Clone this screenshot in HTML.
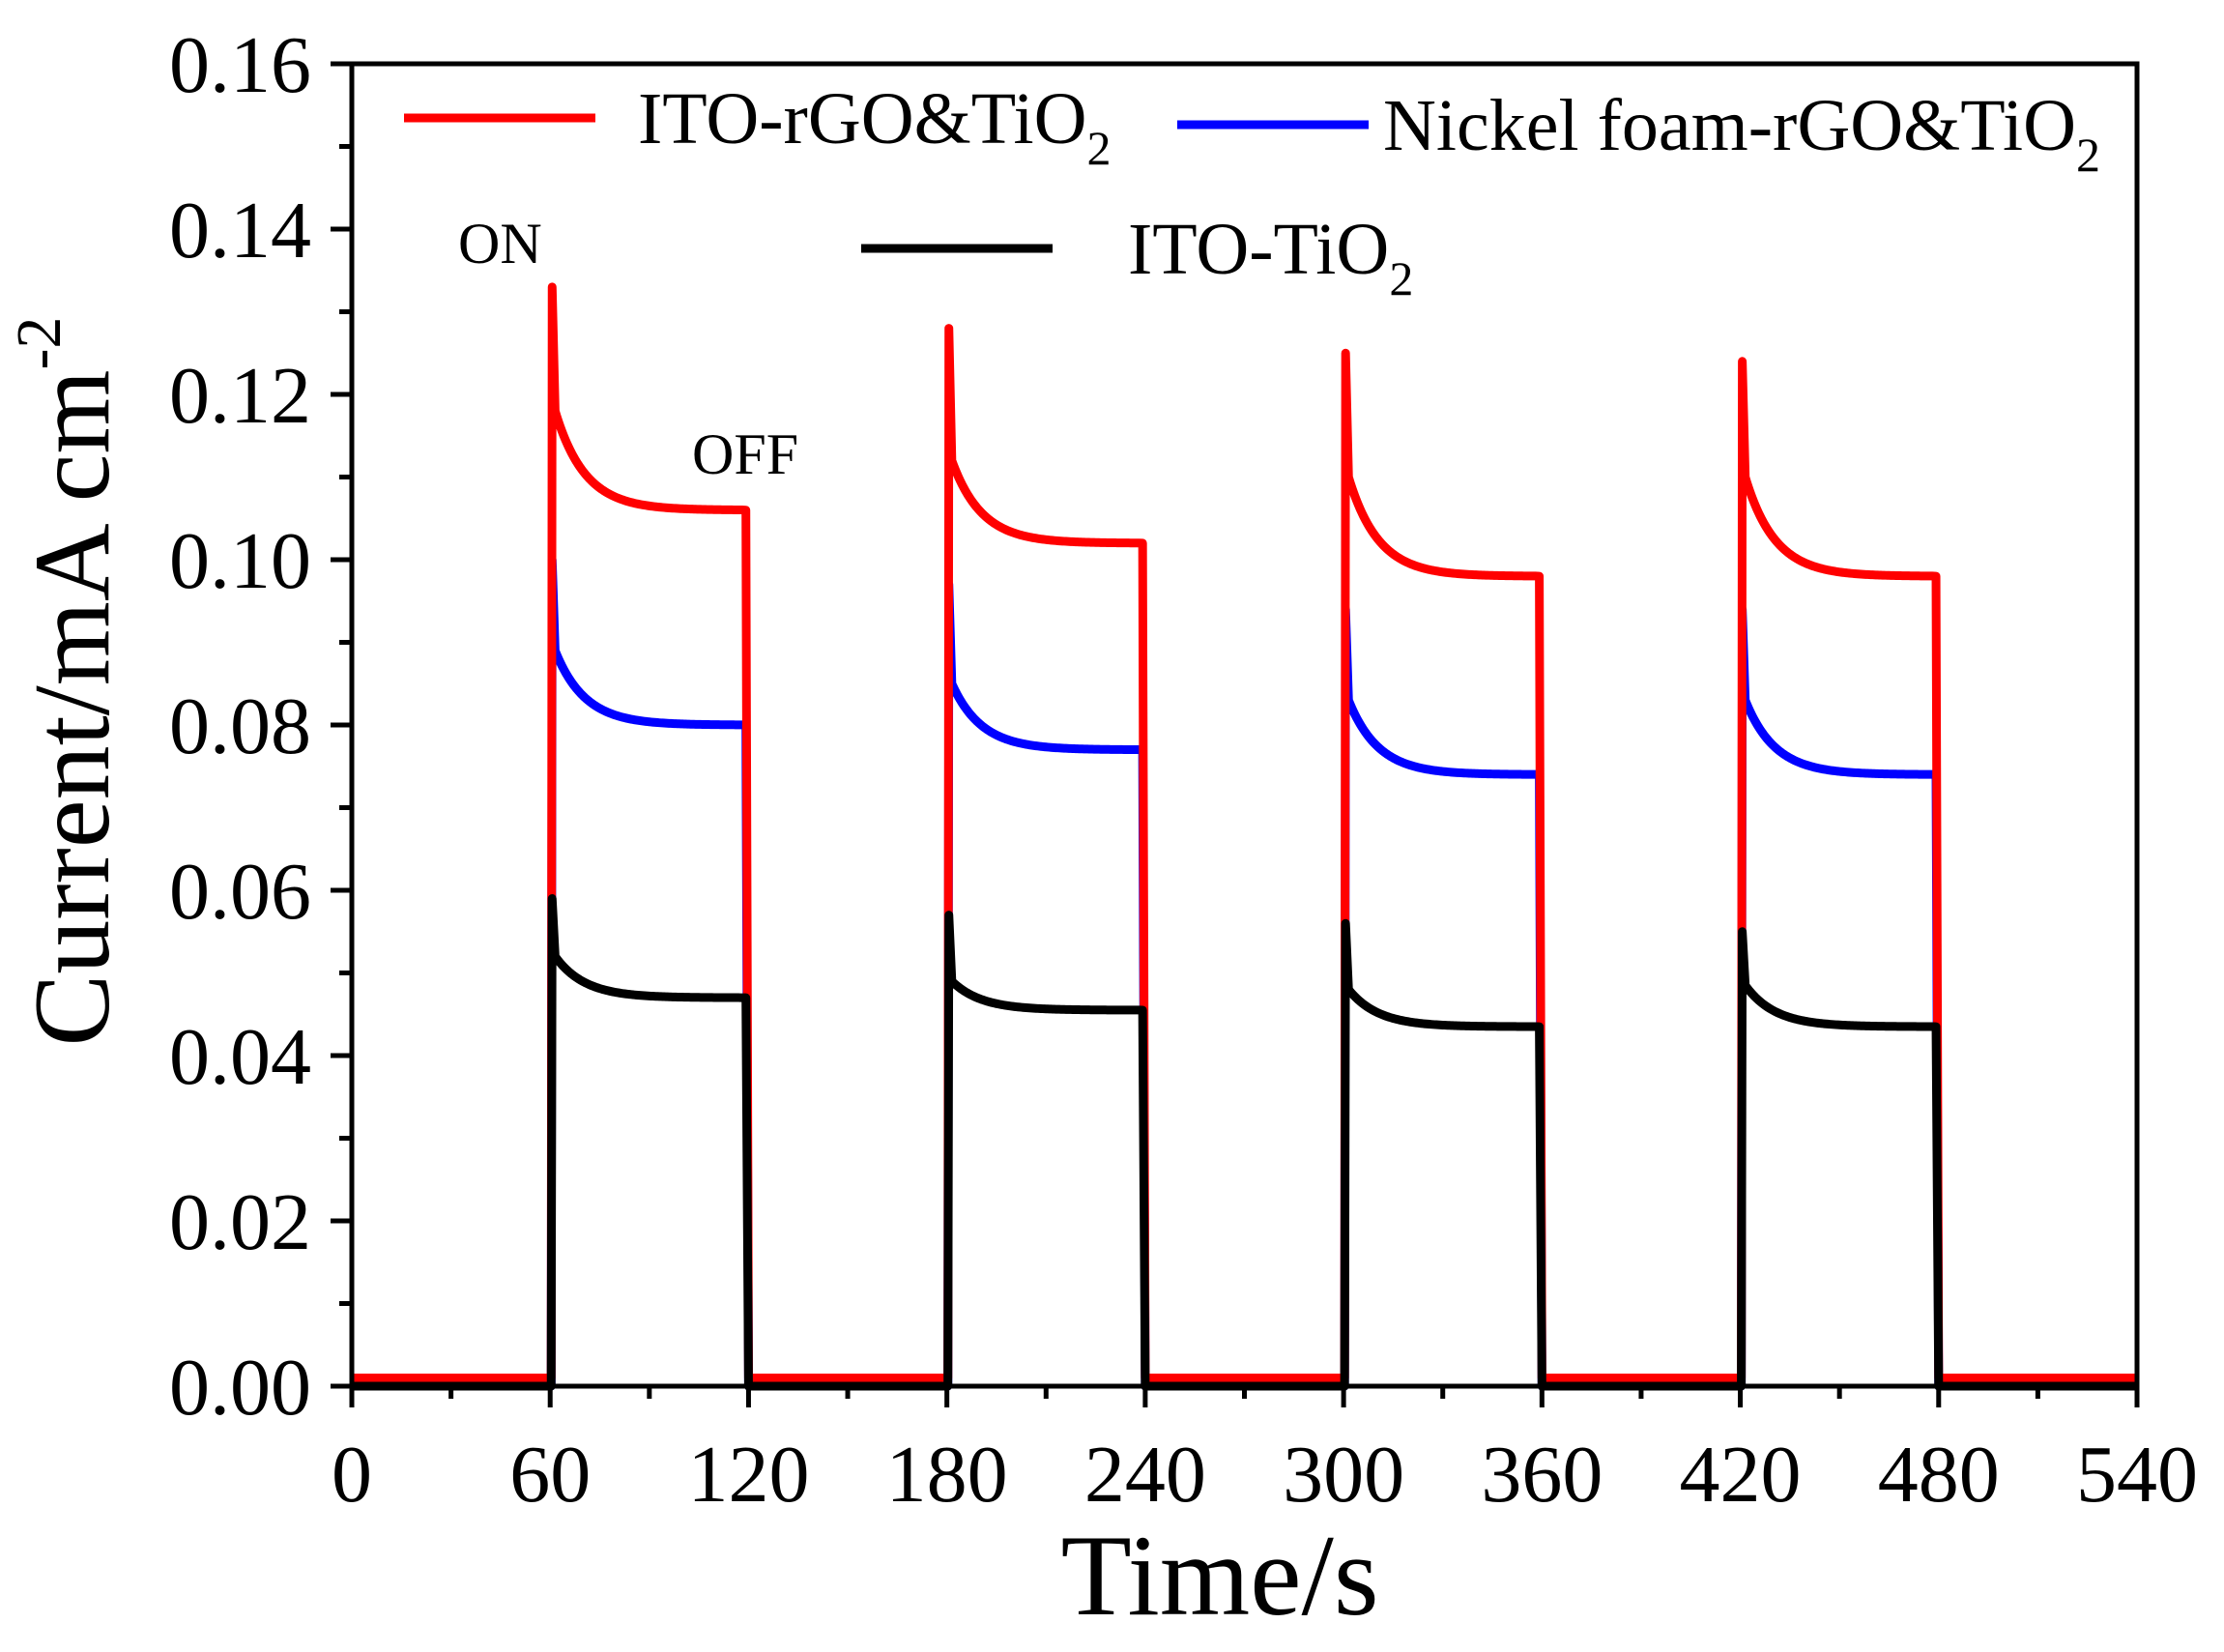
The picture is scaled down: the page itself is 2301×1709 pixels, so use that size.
<!DOCTYPE html>
<html><head><meta charset="utf-8"><style>
html,body{margin:0;padding:0;background:#fff;}
svg{display:block;}
text{font-family:"Liberation Serif",serif;fill:#000;}
</style></head><body>
<svg id="s" width="2301" height="1709" viewBox="0 0 2301 1709" xmlns="http://www.w3.org/2000/svg">
<g id="series"></g>
<rect x="364" y="66" width="1847" height="1368" fill="none" stroke="#000" stroke-width="5"/>
<g id="ticks" stroke="#000" stroke-width="5"></g>
<g font-size="84" text-anchor="end" id="ylab"></g>
<g font-size="84" text-anchor="middle" id="xlab"></g>
<text x="1262" y="1670" font-size="120" text-anchor="middle">Time/s</text>
<text transform="translate(112,705) rotate(-90)" font-size="112" text-anchor="middle">Current/mA cm<tspan dy="-50" font-size="66">-2</tspan></text>
<line x1="418" y1="122" x2="616" y2="122" stroke="#f00" stroke-width="9"/>
<text x="660" y="148" font-size="76">ITO-rGO&amp;TiO<tspan dy="22" font-size="50">2</tspan></text>
<line x1="1218" y1="129" x2="1416" y2="129" stroke="#00f" stroke-width="9"/>
<text x="1431" y="155" font-size="76">Nickel foam-rGO&amp;TiO<tspan dy="22" font-size="50">2</tspan></text>
<line x1="891" y1="257" x2="1089" y2="257" stroke="#000" stroke-width="9"/>
<text x="1167" y="283" font-size="76">ITO-TiO<tspan dy="22" font-size="50">2</tspan></text>
<text x="474" y="272" font-size="60">ON</text>
<text x="716" y="490" font-size="60">OFF</text>
</svg>
<script>
var X=function(t){return 364+t*1847/540;},Y=function(v){return 1434-v*8550;};
function series(base,params){
 var d="M"+X(0)+","+Y(base);
 for(var k=0;k<4;k++){
  var p=params[k],t0=60+120*k;
  d+=" L"+X(t0+0.3)+","+Y(base)+" L"+X(t0+0.6)+","+Y(p[0])+" L"+X(t0+1.5)+","+Y(p[1]);
  for(var t=1.5;t<=58;t+=0.5){
   var v=p[2]+(p[1]-p[2])*Math.exp(-(t-1.5)/9);
   d+=" L"+X(t0+t)+","+Y(v);
  }
  d+=" L"+X(t0+59.2)+","+Y(p[2])+" L"+X(t0+60)+","+Y(base);
 }
 d+=" L"+X(540)+","+Y(base);
 return d;
}
var red=[[0.133,0.118,0.106],[0.128,0.112,0.102],[0.125,0.110,0.098],[0.124,0.110,0.098]];
var blue=[[0.100,0.089,0.080],[0.097,0.085,0.077],[0.094,0.083,0.074],[0.094,0.083,0.074]];
var blk=[[0.059,0.052,0.047],[0.057,0.049,0.0455],[0.056,0.048,0.0435],[0.055,0.0485,0.0435]];
var g=document.getElementById("series"),ns="http://www.w3.org/2000/svg";
[[blue,"#00f",0.0,9],[red,"#f00",0.001,9],[blk,"#000",0.0,9]].forEach(function(a){
 var p=document.createElementNS(ns,"path");p.setAttribute("d",series(a[2],a[0]));
 p.setAttribute("fill","none");p.setAttribute("stroke",a[1]);p.setAttribute("stroke-width",a[3]);p.setAttribute("stroke-linejoin","round");g.appendChild(p);
});
var tk=document.getElementById("ticks"),h="";
for(var i=0;i<=16;i++){var y=Y(i*0.01),l=(i%2==0)?22:13;h+='<line x1="'+(364-l)+'" y1="'+y+'" x2="364" y2="'+y+'"/>';}
for(var i=0;i<=18;i++){var x=X(i*30),l=(i%2==0)?22:13;h+='<line x1="'+x+'" y1="1434" x2="'+x+'" y2="'+(1434+l)+'"/>';}
tk.innerHTML=h;
var yl="";for(var i=0;i<=8;i++){yl+='<text x="322" y="'+(Y(i*0.02)+29)+'">'+(i*0.02).toFixed(2)+'</text>';}
document.getElementById("ylab").innerHTML=yl;
var xl="";for(var i=0;i<=9;i++){xl+='<text x="'+X(i*60)+'" y="1553">'+(i*60)+'</text>';}
document.getElementById("xlab").innerHTML=xl;
</script>
</body></html>
